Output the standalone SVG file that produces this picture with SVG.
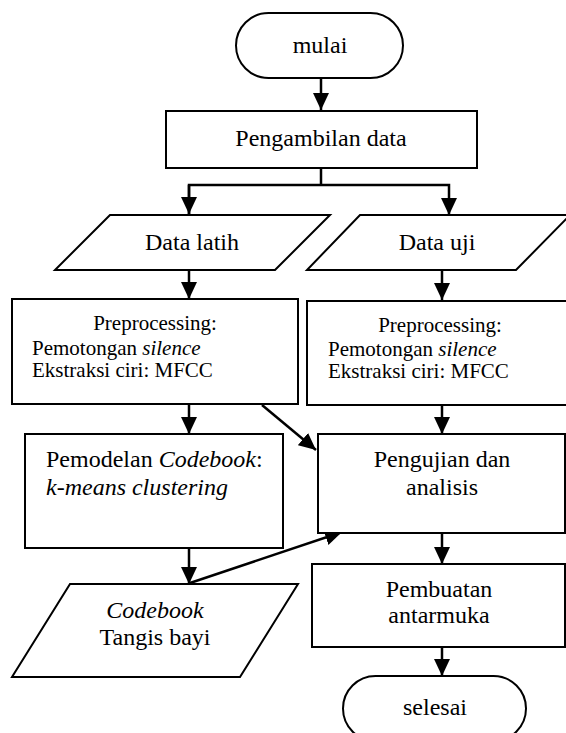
<svg xmlns="http://www.w3.org/2000/svg" width="566" height="733" viewBox="0 0 566 733">
<style>
.s{fill:#fff;stroke:#000;stroke-width:2}
.t{font-family:"Liberation Serif","Times New Roman",serif;font-size:24px;fill:#000}
.p{font-family:"Liberation Serif","Times New Roman",serif;font-size:21px;fill:#000}
.c{stroke:#000;stroke-width:2.5;fill:none}
.m{text-anchor:middle}
</style>
<defs>
<marker id="ah" markerUnits="userSpaceOnUse" markerWidth="17" markerHeight="16" refX="17" refY="8" orient="auto">
<path d="M0,0 L17,8 L0,16 z" fill="#000"/>
</marker>
</defs>
<rect width="566" height="733" fill="#fff"/>
<g id="connectors">
<line class="c" x1="321" y1="78" x2="321" y2="110" marker-end="url(#ah)"/>
<polyline class="c" points="321,168 321,185" />
<polyline class="c" points="189,214 189,185 449,185 449,215" marker-end="url(#ah)"/>
<line class="c" x1="189" y1="185" x2="189" y2="214" marker-end="url(#ah)"/>
<line class="c" x1="189" y1="270" x2="189" y2="299" marker-end="url(#ah)"/>
<line class="c" x1="442" y1="270" x2="442" y2="300" marker-end="url(#ah)"/>
<line class="c" x1="189" y1="404" x2="189" y2="434" marker-end="url(#ah)"/>
<line class="c" x1="442" y1="405" x2="442" y2="434" marker-end="url(#ah)"/>
<line class="c" x1="262" y1="405" x2="316" y2="450" marker-end="url(#ah)"/>
<line class="c" x1="189" y1="548" x2="189" y2="584" marker-end="url(#ah)"/>
<line class="c" x1="190" y1="583" x2="342" y2="532" marker-end="url(#ah)"/>
<line class="c" x1="442" y1="533" x2="442" y2="564" marker-end="url(#ah)"/>
<line class="c" x1="442" y1="647" x2="442" y2="676" marker-end="url(#ah)"/>
</g>
<g id="mulai">
<rect class="s" x="236" y="13" width="167" height="65" rx="32.5"/>
<text class="t m" x="320" y="53">mulai</text>
</g>
<g id="pengambilan">
<rect class="s" x="166" y="111" width="311" height="57"/>
<text class="t m" x="321" y="146">Pengambilan data</text>
</g>
<g id="datalatih">
<polygon class="s" points="110,215 330,215 275,270 55,270"/>
<text class="t m" x="192" y="250">Data latih</text>
</g>
<g id="datauji">
<polygon class="s" points="360,215 570,215 516,270 307,270"/>
<text class="t m" x="437" y="250">Data uji</text>
</g>
<g id="preproc1">
<rect class="s" x="12" y="299" width="286" height="105"/>
<text class="p m" x="155" y="330">Preprocessing:</text>
<text class="p" x="32" y="355">Pemotongan <tspan font-style="italic">silence</tspan></text>
<text class="p" x="32" y="377">Ekstraksi ciri: MFCC</text>
</g>
<g id="preproc2">
<rect class="s" x="307" y="301" width="263" height="104"/>
<text class="p m" x="440" y="332">Preprocessing:</text>
<text class="p" x="328" y="356">Pemotongan <tspan font-style="italic">silence</tspan></text>
<text class="p" x="328" y="378">Ekstraksi ciri: MFCC</text>
</g>
<g id="pemodelan">
<rect class="s" x="25" y="434" width="258" height="114"/>
<text class="t" x="46" y="467">Pemodelan <tspan font-style="italic">Codebook</tspan>:</text>
<text class="t" x="46" y="495" font-style="italic">k-means clustering</text>
</g>
<g id="pengujian">
<rect class="s" x="318" y="434" width="247" height="99"/>
<text class="t m" x="442" y="467">Pengujian dan</text>
<text class="t m" x="442" y="495">analisis</text>
</g>
<g id="codebook">
<polygon class="s" points="70,584 298,584 240,677 12,677"/>
<text class="t m" x="155" y="618" font-style="italic">Codebook</text>
<text class="t m" x="155" y="645">Tangis bayi</text>
</g>
<g id="pembuatan">
<rect class="s" x="312" y="564" width="253" height="83"/>
<text class="t m" x="439" y="597">Pembuatan</text>
<text class="t m" x="439" y="623">antarmuka</text>
</g>
<g id="selesai">
<rect class="s" x="343" y="676" width="183" height="65" rx="32.5"/>
<text class="t m" x="435" y="715">selesai</text>
</g>
</svg>
